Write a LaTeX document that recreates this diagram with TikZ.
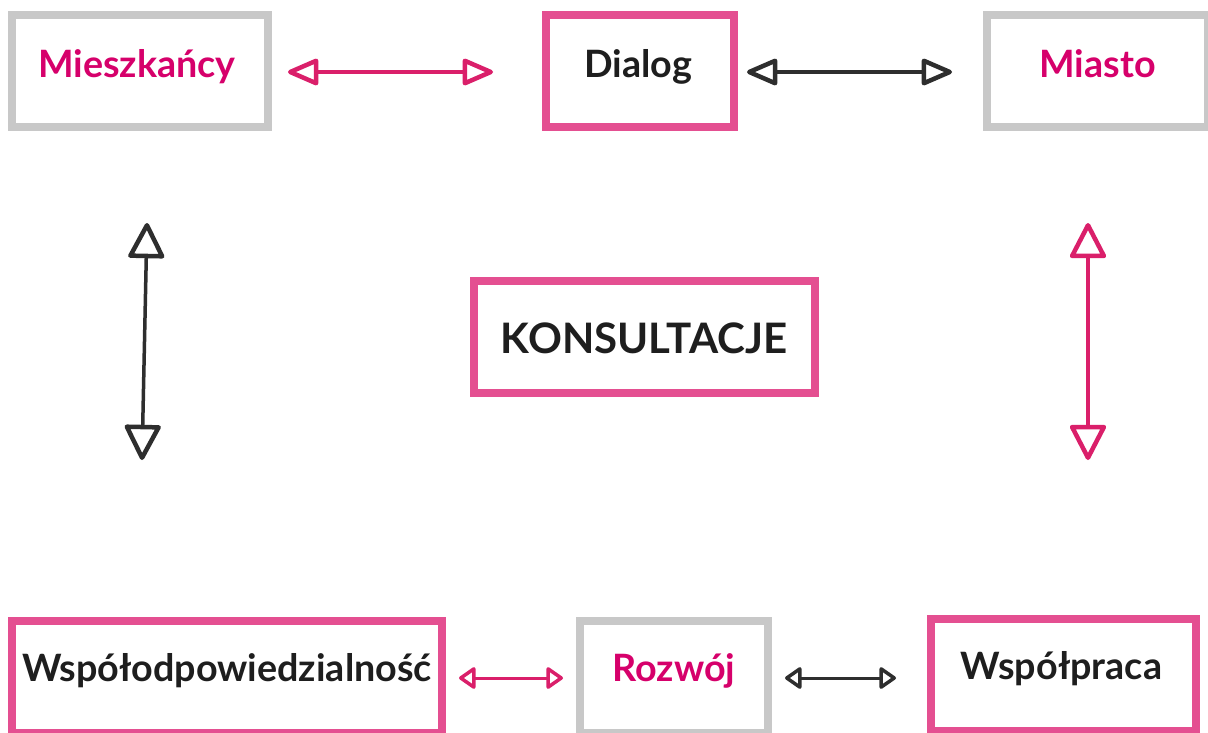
\documentclass[tikz,border=0pt]{standalone}
\usepackage{fontspec}
\setmainfont{Lato}
\usetikzlibrary{arrows.meta}
\definecolor{pinkline}{HTML}{E44F91}
\definecolor{pinktext}{HTML}{D6006B}
\definecolor{grayline}{HTML}{C8C8C8}
\definecolor{darktext}{HTML}{1E1E1E}
\definecolor{pinkarrow}{HTML}{DA1F6A}
\definecolor{darkarrow}{HTML}{2E2E2E}
\tikzset{
  boxbase/.style={draw, line width=8pt, inner sep=0pt, minimum height=112pt, align=center,
    font=\fontsize{37.7}{40}\selectfont\bfseries},
  pinkbox/.style={boxbase, draw=pinkline},
  graybox/.style={boxbase, draw=grayline},
  toprow/.style={text height=30pt, text depth=17pt},
  botrow/.style={text height=30pt, text depth=22pt},
  bigarrow/.style={line width=3.5pt, line cap=round,
    {Triangle[open, length=34pt, width=28pt, line width=4.5pt, round]}-{Triangle[open, length=34pt, width=28pt, line width=4.5pt, round]}},
  vertarrow/.style={line width=3.5pt, line cap=round,
    {Triangle[open, length=38pt, width=38pt, line width=4.5pt, round]}-{Triangle[open, length=38pt, width=38pt, line width=4.5pt, round]}},
  smallarrow/.style={line width=3pt, line cap=round,
    {Triangle[open, length=18pt, width=24pt, line width=3.5pt, round]}-{Triangle[open, length=18pt, width=24pt, line width=3.5pt, round]}},
}
\begin{document}
\begin{tikzpicture}[x=1pt,y=-1pt]
\useasboundingbox (0,0) rectangle (1208,732);
\clip (0,0) rectangle (1208,732);
\fill[white] (0,0) rectangle (1208,732);

% boxes
\node[graybox, toprow, minimum width=256pt, text=pinktext] (miesz) at (140,71) {Mieszkańcy\hspace*{6pt}};
\node[pinkbox, toprow, minimum width=188pt, text=darktext] (dialog) at (640,71) {Dialog\hspace*{4pt}};
\node[graybox, toprow, minimum width=221pt, text=pinktext] (miasto) at (1097.5,71) {Miasto};
\node[pinkbox, minimum width=341pt, text=darktext, text height=40pt, text depth=7pt,
  font=\fontsize{42}{44}\selectfont\bfseries] (kons) at (644,336.5) {KONSULTACJE};
\node[pinkbox, botrow, minimum width=430pt, text=darktext] (wspolodp) at (227,677) {Współodpowiedzialność};
\node[graybox, botrow, minimum width=188pt, text=pinktext] (rozwoj) at (674,677) {Rozwój};
\node[pinkbox, botrow, minimum width=265pt, text=darktext] (wspolpr) at (1063.5,675) {Współpraca\hspace*{4pt}};

% arrow end points
\coordinate (a1l) at (288,72);  \coordinate (a1r) at (493,72);
\coordinate (a2l) at (747,72);  \coordinate (a2r) at (952,72);
\coordinate (a3t) at (147,223); \coordinate (a3b) at (142,460);
\coordinate (a4t) at (1088,223); \coordinate (a4b) at (1088,460);
\coordinate (a5l) at (459,678); \coordinate (a5r) at (563,678);
\coordinate (a6l) at (785,678); \coordinate (a6r) at (896,678);

% arrows
\draw[bigarrow, draw=pinkarrow] (a1l) -- (a1r);
\draw[bigarrow, draw=darkarrow] (a2l) -- (a2r);
\draw[vertarrow, draw=darkarrow] (a3t) -- (a3b);
\draw[vertarrow, draw=pinkarrow] (a4t) -- (a4b);
\draw[smallarrow, draw=pinkarrow] (a5l) -- (a5r);
\draw[smallarrow, draw=darkarrow] (a6l) -- (a6r);
\end{tikzpicture}
\end{document}
